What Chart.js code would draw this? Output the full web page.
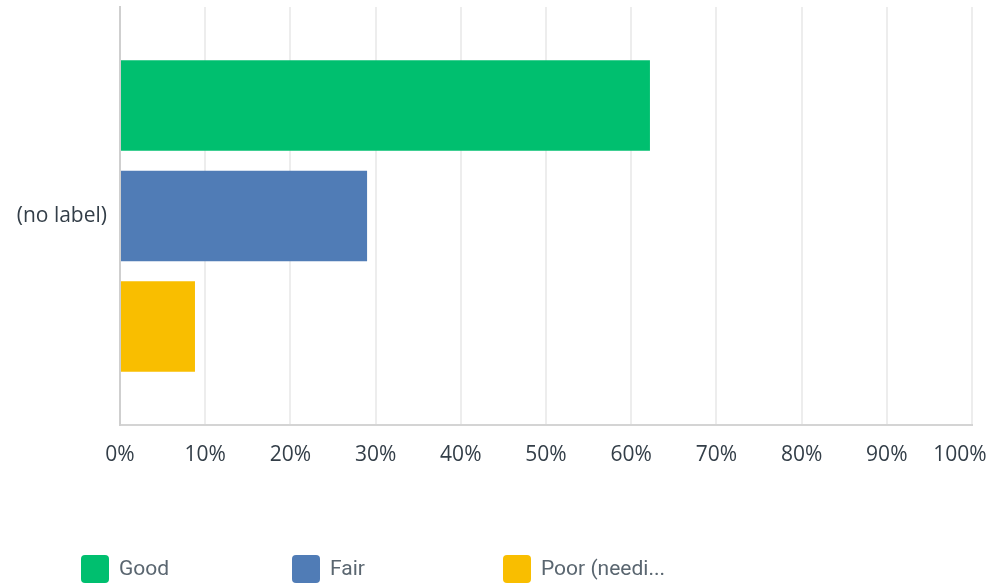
<!DOCTYPE html>
<html>
<head>
<meta charset="utf-8">
<script src="https://cdn.jsdelivr.net/npm/chart.js@4/dist/chart.umd.min.js"></script>
<style>
  html, body { margin: 0; padding: 0; background: #ffffff; }
  #wrap { width: 997px; height: 588px; position: relative; }
</style>
</head>
<body>
<div id="wrap"><canvas id="chart"></canvas></div>
<script>
// Survey answer shares (%) for the single unlabelled question row
const categories = ['(no label)'];
const seriesNames = ['Good', 'Fair', 'Poor (needi...'];
const goodValues = [62.2];
const fairValues = [29.0];
const poorValues = [8.8];
const seriesColors = ['#00BF6F', '#507CB6', '#F9BE00'];
const xTicks = [0, 10, 20, 30, 40, 50, 60, 70, 80, 90, 100];

const tickColor = '#333e48';

// Legend drawn as evenly spaced swatches under the plot
const spacedLegend = {
  id: 'spacedLegend',
  afterDraw(chart, args, opts) {
    const ctx = chart.ctx;
    ctx.save();
    chart.data.datasets.forEach((ds, i) => {
      const x = opts.left + i * opts.step;
      const y = opts.top;
      const s = opts.box;
      ctx.fillStyle = ds.backgroundColor;
      ctx.beginPath();
      ctx.roundRect(x, y, s, s, 4);
      ctx.fill();
      ctx.fillStyle = opts.color;
      ctx.font = opts.font;
      ctx.textBaseline = 'middle';
      ctx.textAlign = 'left';
      ctx.fillText(ds.label, x + s + 10, y + s / 2 + 1);
    });
    ctx.restore();
  }
};

new Chart(document.getElementById('chart'), {
  type: 'bar',
  data: {
    labels: categories,
    datasets: [
      { label: seriesNames[0], data: goodValues, backgroundColor: seriesColors[0] },
      { label: seriesNames[1], data: fairValues, backgroundColor: seriesColors[1] },
      { label: seriesNames[2], data: poorValues, backgroundColor: seriesColors[2] }
    ]
  },
  options: {
    indexAxis: 'y',
    responsive: true,
    maintainAspectRatio: false,
    animation: false,
    datasets: {
      bar: { categoryPercentage: 0.793, barPercentage: 0.82, borderWidth: 0 }
    },
    layout: { padding: { top: 7, right: 25, bottom: 0, left: 0 } },
    scales: {
      x: {
        min: 0,
        max: 100,
        afterBuildTicks(axis) { axis.ticks = xTicks.map(v => ({ value: v })); },
        afterFit(axis) { axis.height = 163; axis.paddingLeft = 0; axis.paddingRight = 0; },
        grid: { color: '#ededed', lineWidth: 2, drawTicks: false },
        border: { color: '#d4d4d4', width: 2 },
        ticks: {
          padding: 17,
          color: tickColor,
          font: { family: 'Open Sans', size: 21 },
          maxRotation: 0,
          autoSkip: false,
          callback: (v) => v === 100 ? '100%\u2007\u2007' : v + '%'
        }
      },
      y: {
        afterFit(axis) { axis.width = 120; axis.paddingTop = 0; axis.paddingBottom = 0; },
        grid: { display: false, drawTicks: false },
        border: { color: '#cfcfcf', width: 2 },
        ticks: {
          padding: 13,
          color: tickColor,
          font: { family: 'Open Sans', size: 21 }
        }
      }
    },
    plugins: {
      legend: { display: false },
      tooltip: { enabled: false },
      spacedLegend: {
        left: 81, step: 211, top: 555, box: 28,
        color: '#5a6670',
        font: '21px Roboto'
      }
    }
  },
  plugins: [spacedLegend]
});
</script>
</body>
</html>
